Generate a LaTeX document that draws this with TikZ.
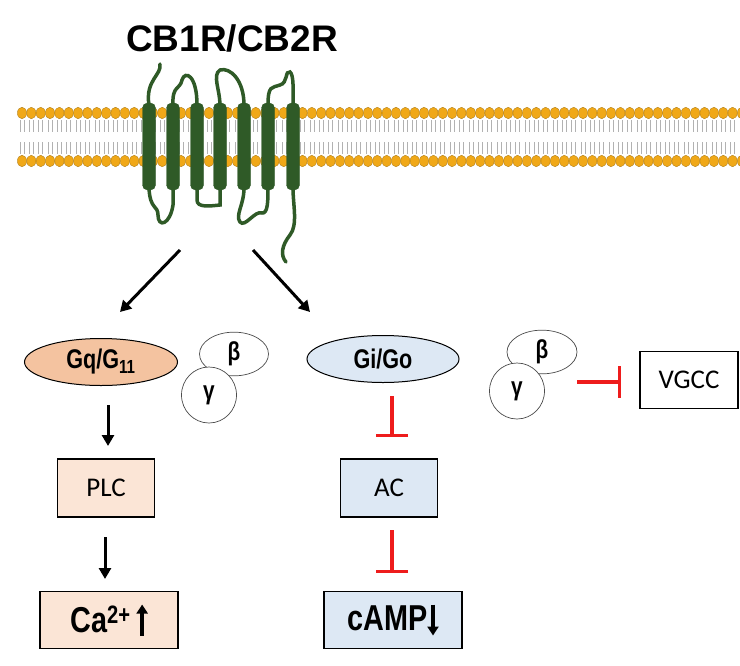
\documentclass[tikz,border=0pt]{standalone}
\usepackage{fontspec}
\setmainfont{Carlito}
\newfontfamily\boldsans{Liberation Sans}
\newfontfamily\narrowb{Liberation Sans}[FakeStretch=0.8]
\usetikzlibrary{arrows.meta,shapes.geometric}
\definecolor{helix}{HTML}{2F5A27}
\definecolor{head}{HTML}{F0A818}
\definecolor{peach}{HTML}{F4C3A0}
\definecolor{lpeach}{HTML}{FBE5D6}
\definecolor{lblue}{HTML}{DDE8F4}
\definecolor{inh}{HTML}{EE1C1C}
\tikzset{
 hx/.style={fill=helix,draw=helix,rounded corners=5pt},
 loop/.style={draw=helix,line width=3.5pt,line cap=round},
 act/.style={draw=black,line width=3pt,-{Triangle[length=11pt,width=12pt]}},
 inhb/.style={draw=inh,line width=3.5pt,-{Bar[width=32pt,line width=3.5pt]}},
 box/.style={draw=black,line width=1.2pt,minimum width=97pt,minimum height=58pt,font=\fontsize{27}{27}\selectfont},
 bigbox/.style={draw=black,line width=1.2pt,minimum width=138pt,minimum height=57pt,font=\narrowb\bfseries\fontsize{36}{36}\selectfont},
 gell/.style={ellipse,draw=black,line width=1pt,font=\narrowb\bfseries\fontsize{27}{27}\selectfont},
 sub/.style={ellipse,draw=black!70,line width=0.7pt,fill=white,font=\narrowb\bfseries\fontsize{26}{26}\selectfont}
}
\begin{document}
\begin{tikzpicture}[x=1pt,y=-1pt]
\useasboundingbox (0,0) rectangle (740,665);
\fill[white] (0,0) rectangle (740,665);
\node (title) at (232,38) {\boldsans\bfseries\fontsize{37}{37}\selectfont CB1R/CB2R};
% membrane
\foreach \i in {0,...,77}{
 \pgfmathsetmacro\xx{22+9.35*\i}
 \draw[gray!60,line width=0.6pt] (\xx-2,120) -- (\xx-2,132) (\xx+2,120) -- (\xx+2,132);
 \draw[gray!60,line width=0.6pt] (\xx-2,142) -- (\xx-2,154) (\xx+2,142) -- (\xx+2,154);
 \fill[head,draw=head!70!black,line width=0.3pt] (\xx,113) ellipse (4.6 and 5.8);
 \fill[head,draw=head!70!black,line width=0.3pt] (\xx,161) ellipse (4.6 and 5.8);
}
% loops
\draw[loop] (149,105) .. controls (145,80) and (162,75) .. (160,64);
\draw[loop] (173,105) .. controls (172,85) and (180,90) .. (182,80) .. controls (185,70) and (197,75) .. (197,105);
\draw[loop] (220,105) .. controls (220,90) and (212,75) .. (220,70) .. controls (230,67) and (244,80) .. (244,105);
\draw[loop] (268,105) .. controls (268,85) and (272,88) .. (280,85) .. controls (288,83) and (285,70) .. (290,72) .. controls (294,75) and (293,90) .. (293,105);
\draw[loop] (149,188) .. controls (150,210) and (158,205) .. (158,215) .. controls (158,228) and (170,225) .. (173,205) -- (173,188);
\draw[loop] (197,188) -- (197,200) .. controls (197,208) and (210,206) .. (220,205) -- (220,188);
\draw[loop] (244,188) .. controls (244,205) and (235,215) .. (240,222) .. controls (245,228) and (255,210) .. (262,213) .. controls (268,214) and (268,200) .. (268,188);
\draw[loop] (293,188) .. controls (293,205) and (298,225) .. (290,235) .. controls (282,245) and (280,255) .. (286,262);
\foreach \x in {149,173,197,220,244,268,293}
 \draw[hx] (\x-6.5,103) rectangle (\x+6.5,190);
% nodes
\node[gell,fill=peach,minimum width=153pt,minimum height=47pt] (gq) at (101,362) {Gq/G\textsubscript{11}};
\node[gell,fill=lblue,minimum width=152pt,minimum height=47pt] (gi) at (383,359) {Gi/Go};
\node[sub,minimum width=69pt,minimum height=42pt] (b1) at (234,354) {β};
\node[sub,minimum width=55pt,minimum height=56pt] (g1) at (209,395) {γ};
\node[sub,minimum width=70pt,minimum height=40pt] (b2) at (542,352) {β};
\node[sub,minimum width=55pt,minimum height=56pt] (g2) at (517,391) {γ};
\node[draw=black,line width=1.5pt,minimum width=98pt,minimum height=57pt,font=\fontsize{27}{27}\selectfont] (vgcc) at (689,380) {VGCC};
\node[box,fill=lpeach] (plc) at (106,488) {PLC};
\node[box,fill=lblue] (ac) at (389,488) {AC};
\node[bigbox,fill=lpeach] (ca) at (109,620) {Ca\textsuperscript{2+}\,\tikz[baseline=0pt]\draw[line width=4pt,-{Triangle[length=9pt,width=11pt]}] (0,-3pt) -- (0,28pt);};
\node[bigbox,fill=lblue] (camp) at (393,620) {cAMP\tikz[baseline=0pt]\draw[line width=4pt,-{Triangle[length=9pt,width=11pt]}] (0,26pt) -- (0,-5pt);};
% connectors
\coordinate (r1) at (180,250); \coordinate (r2) at (253,250);
\draw[act] (r1) -- (120,312);
\draw[act] (r2) -- (310,312);
\draw[act] (gq.south -| 108,0) ++(0,19) -- (108,446);
\draw[act] (105,537) -- (105,579);
\draw[inhb] (392,396) -- (392,437);
\draw[inhb] (392,530) -- (392,573);
\draw[inhb] (577,382) -- (621,382);
\end{tikzpicture}
\end{document}
